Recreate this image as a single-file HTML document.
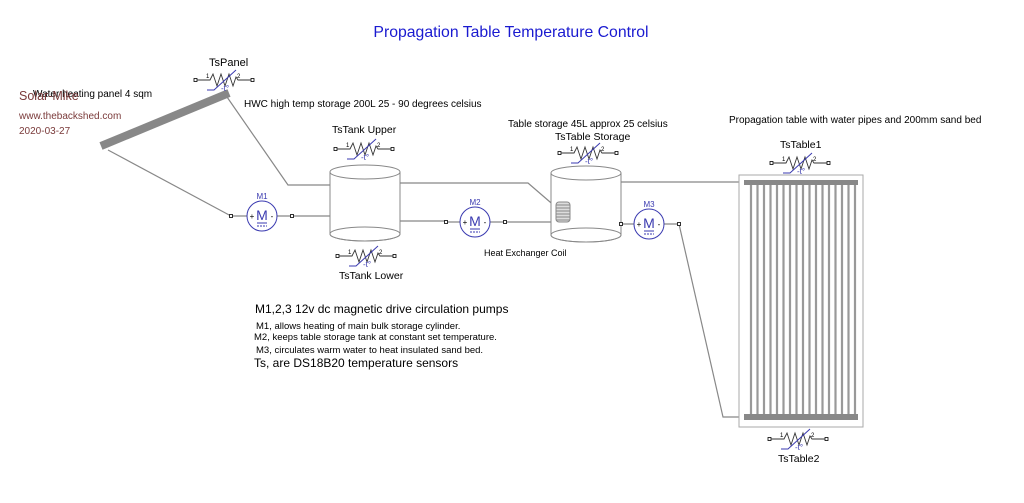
<!DOCTYPE html>
<html><head><meta charset="utf-8"><style>
html,body{margin:0;padding:0;background:#fff;}
svg{display:block;font-family:"Liberation Sans",Arial,sans-serif;}
</style></head><body>
<svg width="1024" height="503" viewBox="0 0 1024 503" xmlns="http://www.w3.org/2000/svg">
<defs>
<g id="th">
  <rect x="-30" y="-1.5" width="3" height="3" fill="none" stroke="#000" stroke-width="0.8"/>
  <rect x="27" y="-1.5" width="3" height="3" fill="none" stroke="#000" stroke-width="0.8"/>
  <polyline points="-27,0 -14,0 -11,-6 -7,6 -3,-6 1,6 5,-6 9,6 12,-3 14,0 27,0" fill="none" stroke="#333" stroke-width="0.9"/>
  <polyline points="-17,10 -10,10 12,-10" fill="none" stroke="#3a3ab0" stroke-width="1"/>
  <text x="-18" y="-2" font-size="6" fill="#000">1</text>
  <text x="13" y="-2" font-size="6" fill="#000">2</text>
  <text x="-3" y="11" font-size="8" fill="#3a3ab0">-t°</text>
</g>
<g id="mot">
  <circle cx="0" cy="0" r="15" fill="#fff" stroke="#3a3ab0" stroke-width="1"/>
  <text x="0" y="4" font-size="14" text-anchor="middle" fill="#3a3ab0">M</text>
  <text x="-10" y="3" font-size="8" text-anchor="middle" fill="#000">+</text>
  <text x="10" y="3" font-size="8" text-anchor="middle" fill="#000">-</text>
  <line x1="-5" y1="7" x2="5" y2="7" stroke="#3a3ab0" stroke-width="1"/>
  <line x1="-5" y1="10" x2="5" y2="10" stroke="#3a3ab0" stroke-width="1" stroke-dasharray="2,1"/>
</g>
</defs>

<text x="511" y="37" font-size="15.8" text-anchor="middle" fill="#1a1ad0">Propagation Table Temperature Control</text>

<g fill="none" stroke="#888" stroke-width="1.2">
  <polyline points="227,97 288,185 330,185"/>
  <polyline points="108,150 231,216"/>
  <line x1="293" y1="216" x2="330" y2="216"/>
  <polyline points="400,183 528,183 557,208"/>
  <line x1="400" y1="221" x2="446" y2="221"/>
  <line x1="505" y1="222" x2="557" y2="222"/>
  <line x1="621" y1="182" x2="744" y2="182"/>
  <polyline points="679,224 723,417 744,417"/>
  <line x1="231" y1="216" x2="293" y2="216"/>
  <line x1="446" y1="222" x2="505" y2="222"/>
  <line x1="621" y1="224" x2="679" y2="224"/>
</g>

<line x1="101" y1="146" x2="229" y2="93" stroke="#888" stroke-width="8"/>

<text x="33" y="97" font-size="10" fill="#000">Water heating panel 4 sqm</text>
<text x="19" y="100" font-size="12.5" fill="#7a3a3a">Solar-Mike</text>
<text x="19" y="119" font-size="10" fill="#7a3a3a">www.thebackshed.com</text>
<text x="19" y="134" font-size="10" fill="#7a3a3a">2020-03-27</text>
<text x="244" y="107" font-size="10" fill="#000">HWC high temp storage 200L 25 - 90 degrees celsius</text>
<text x="209" y="66" font-size="11" fill="#000">TsPanel</text>
<text x="332" y="133" font-size="10.5" fill="#000">TsTank Upper</text>
<text x="339" y="279" font-size="10.5" fill="#000">TsTank Lower</text>
<text x="508" y="127" font-size="10" fill="#000">Table storage 45L approx 25 celsius</text>
<text x="555" y="140" font-size="10.5" fill="#000">TsTable Storage</text>
<text x="484" y="256" font-size="9" fill="#000">Heat Exchanger Coil</text>
<text x="729" y="123" font-size="10" fill="#000">Propagation table with water pipes and 200mm sand bed</text>
<text x="780" y="148" font-size="10.5" fill="#000">TsTable1</text>
<text x="778" y="462" font-size="10.5" fill="#000">TsTable2</text>

<use href="#th" transform="translate(224,80)"/>
<use href="#th" transform="translate(364,149)"/>
<use href="#th" transform="translate(366,256)"/>
<use href="#th" transform="translate(588,153)"/>
<use href="#th" transform="translate(800,163)"/>
<use href="#th" transform="translate(798,439)"/>

<g fill="#fff" stroke="#888" stroke-width="1">
  <path d="M330,172 L330,234 A35,7 0 0 0 400,234 L400,172"/>
  <ellipse cx="365" cy="172" rx="35" ry="7"/>
  <ellipse cx="365" cy="234" rx="35" ry="7" fill="none"/>
  <path d="M551,173 L551,235 A35,7 0 0 0 621,235 L621,173"/>
  <ellipse cx="586" cy="173" rx="35" ry="7"/>
  <ellipse cx="586" cy="235" rx="35" ry="7" fill="none"/>
</g>
<g fill="none" stroke="#888" stroke-width="0.9">
  <line x1="320" y1="185" x2="330" y2="185"/>
  <line x1="320" y1="216" x2="330" y2="216"/>
</g>
<g stroke="#888" stroke-width="1" fill="#ddd">
  <rect x="556" y="202" width="14" height="20" rx="3"/>
  <line x1="556" y1="205" x2="570" y2="205"/><line x1="556" y1="208" x2="570" y2="208"/>
  <line x1="556" y1="211" x2="570" y2="211"/><line x1="556" y1="214" x2="570" y2="214"/>
  <line x1="556" y1="217" x2="570" y2="217"/><line x1="556" y1="220" x2="570" y2="220"/>
</g>

<g fill="#fff" stroke="#000" stroke-width="0.8">
  <rect x="229.5" y="214.5" width="3" height="3"/><rect x="290.5" y="214.5" width="3" height="3"/>
  <rect x="444.5" y="220.5" width="3" height="3"/><rect x="503.5" y="220.5" width="3" height="3"/>
  <rect x="619.5" y="222.5" width="3" height="3"/><rect x="677.5" y="222.5" width="3" height="3"/>
</g>
<use href="#mot" transform="translate(262,216)"/>
<use href="#mot" transform="translate(475,222)"/>
<use href="#mot" transform="translate(649,224)"/>
<text x="262" y="199" font-size="8" text-anchor="middle" fill="#3a3ab0">M1</text>
<text x="475" y="205" font-size="8" text-anchor="middle" fill="#3a3ab0">M2</text>
<text x="649" y="207" font-size="8" text-anchor="middle" fill="#3a3ab0">M3</text>

<rect x="739" y="175" width="124" height="252" fill="#fff" stroke="#aaa" stroke-width="1"/>
<g stroke="#999" stroke-width="2.2">
  <line x1="751" y1="182" x2="751" y2="418"/><line x1="757.5" y1="182" x2="757.5" y2="418"/>
  <line x1="764" y1="182" x2="764" y2="418"/><line x1="770.5" y1="182" x2="770.5" y2="418"/>
  <line x1="777" y1="182" x2="777" y2="418"/><line x1="783.5" y1="182" x2="783.5" y2="418"/>
  <line x1="790" y1="182" x2="790" y2="418"/><line x1="796.5" y1="182" x2="796.5" y2="418"/>
  <line x1="803" y1="182" x2="803" y2="418"/><line x1="809.5" y1="182" x2="809.5" y2="418"/>
  <line x1="816" y1="182" x2="816" y2="418"/><line x1="822.5" y1="182" x2="822.5" y2="418"/>
  <line x1="829" y1="182" x2="829" y2="418"/><line x1="835.5" y1="182" x2="835.5" y2="418"/>
  <line x1="842" y1="182" x2="842" y2="418"/><line x1="848.5" y1="182" x2="848.5" y2="418"/>
  <line x1="855" y1="182" x2="855" y2="418"/>
</g>
<rect x="744" y="180" width="114" height="5" fill="#888"/>
<rect x="744" y="414" width="114" height="6" fill="#888"/>

<text x="255" y="313" font-size="12" fill="#000">M1,2,3 12v dc magnetic drive circulation pumps</text>
<text x="256" y="329" font-size="9.5" fill="#000">M1, allows heating of main bulk storage cylinder.</text>
<text x="254" y="340" font-size="9.5" fill="#000">M2, keeps table storage tank at constant set temperature.</text>
<text x="256" y="353" font-size="9.5" fill="#000">M3, circulates warm water to heat insulated sand bed.</text>
<text x="254" y="367" font-size="12" fill="#000">Ts, are DS18B20 temperature sensors</text>
</svg>
</body></html>
